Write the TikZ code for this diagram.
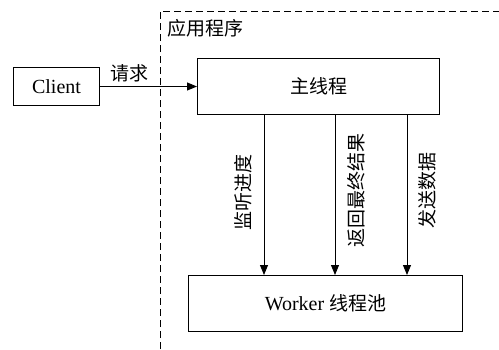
\documentclass[tikz,border=0pt]{standalone}
\usepackage{fontspec}
\setmainfont{Liberation Serif}
\newfontfamily\cjk{Noto Sans CJK SC}[Scale=0.95]
\usetikzlibrary{arrows.meta}
\begin{document}
\begin{tikzpicture}[x=1pt,y=-1pt,
  box/.style={draw, line width=1pt, inner sep=0pt, anchor=north west},
  lbl/.style={font=\fontsize{20}{23}\selectfont, inner sep=0pt},
  conn/.style={line width=1pt, -{Triangle[length=10pt,width=8pt]}}]
\useasboundingbox (0,0) rectangle (499,349);
\draw[line width=1pt, dash pattern=on 7pt off 4pt] (160,349) -- (160,11) -- (499,11);
\node[lbl, anchor=west] (app) at (167,28) {\cjk 应用程序};
\node[box, minimum width=86pt, minimum height=38pt] (client) at (13,67) {};
\node[lbl] at (client.center) {Client};
\node[box, minimum width=242pt, minimum height=56pt] (main) at (197,58) {};
\node[lbl] at (main.center) {\cjk 主线程};
\node[box, minimum width=274pt, minimum height=56pt] (worker) at (188,275) {};
\node[lbl] at (worker.center) {Worker \cjk 线程池};
\draw[conn] (client.east) -- (main.west) node[lbl, pos=0.3, above=4pt] {\cjk 请求};
\draw[conn] (main.south -| 264,0) -- (worker.north -| 264,0);
\draw[conn] (main.south -| 335,0) -- (worker.north -| 335,0);
\draw[conn] (main.south -| 407,0) -- (worker.north -| 407,0);
\node[lbl, rotate=90] (l1) at (243,192) {\cjk 监听进度};
\node[lbl, rotate=90] (l2) at (356,190) {\cjk 返回最终结果};
\node[lbl, rotate=90] (l3) at (427,190) {\cjk 发送数据};
\end{tikzpicture}
\end{document}
